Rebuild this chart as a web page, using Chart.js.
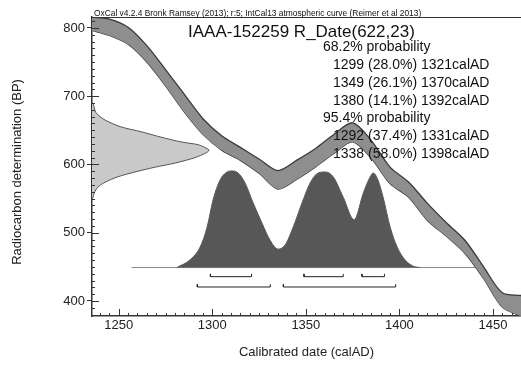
<!DOCTYPE html>
<html>
<head>
<meta charset="utf-8">
<script src="https://cdn.jsdelivr.net/npm/chart.js@4/dist/chart.umd.min.js"></script>
<style>
  html, body { margin: 0; padding: 0; background: #fff; }
  canvas { display: block; }
</style>
</head>
<body>
<canvas id="chart" width="521" height="365"></canvas>
<script>
// calibration curve (IntCal13), upper and lower 1-sigma edges
const curveYears = [1236, 1245, 1255, 1265, 1275, 1285, 1295, 1305, 1315, 1325, 1335, 1345, 1355, 1365, 1375, 1385, 1395, 1405, 1415, 1425, 1435, 1445, 1455, 1465];
const curveUpper = [816, 813, 801, 774, 739, 703, 667, 642, 625, 608, 591, 606, 623, 644, 661, 635, 596, 574, 543, 515, 489, 450, 412, 408];
const curveLower = [796, 789, 776, 750, 715, 677, 644, 621, 606, 587, 564, 578, 596, 616, 633, 609, 572, 552, 518, 495, 470, 433, 391, 378];

// radiocarbon measurement 622 +/- 23 BP, drawn against the y axis (extent in years)
const rDateBP = [691, 690, 676, 665, 655, 648, 640, 633, 629, 624, 621, 617, 610, 602, 596, 589, 582, 574, 567, 558, 551, 549];
const rDateExtent = [1235.7, 1236.2, 1237.8, 1242.7, 1251.2, 1261.9, 1272.6, 1283.3, 1292.4, 1296.7, 1298.3, 1296.7, 1290.8, 1280.1, 1269.4, 1258.7, 1249.6, 1242.7, 1238.9, 1236.8, 1236.2, 1235.7];

// calibrated probability distribution (height shown in BP units above its baseline)
const distYears = [1281, 1288, 1293.5, 1297.2, 1300.4, 1304.1, 1307.9, 1310.6, 1313.8, 1317.5, 1321.8, 1326.6, 1330.9, 1335.2, 1338.9, 1343.2, 1348, 1352.3, 1356.6, 1360.3, 1364.6, 1370, 1375.8, 1380.7, 1384.4, 1386, 1388.6, 1391.3, 1395.1, 1398.8, 1403.1, 1407.4, 1411.1];
const distBP = [449, 460, 479, 508, 548, 577, 589, 590.5, 587.5, 573, 544, 514, 489, 476, 482, 508, 544, 573, 587.5, 589, 582, 552, 519, 558, 582, 587.5, 577, 552, 508, 479, 460, 451, 449];
const distBase = 449;
const baseLine = [1256.8, 1440.5];

// probability ranges
const ranges68 = [[1299, 1321], [1349, 1370], [1380, 1392]];
const ranges95 = [[1292, 1331], [1338, 1398]];
const row68 = 435.6, row95 = 420.5, bracketTick = 4;

const xTicks = [1250, 1300, 1350, 1400, 1450];
const yTicks = [400, 500, 600, 700, 800];

const headerText = 'OxCal v4.2.4 Bronk Ramsey (2013); r:5; IntCal13 atmospheric curve (Reimer et al 2013)';
const sampleTitle = 'IAAA-152259 R_Date(622,23)';
const rangeLines = [
  { text: '68.2% probability', indent: 0 },
  { text: '1299 (28.0%) 1321calAD', indent: 1 },
  { text: '1349 (26.1%) 1370calAD', indent: 1 },
  { text: '1380 (14.1%) 1392calAD', indent: 1 },
  { text: '95.4% probability', indent: 0 },
  { text: '1292 (37.4%) 1331calAD', indent: 1 },
  { text: '1338 (58.0%) 1398calAD', indent: 1 }
];

const FONT = "'Liberation Sans', Arial, sans-serif";

function bracketPoints(ranges, row) {
  const pts = [];
  ranges.forEach(([a, b]) => {
    pts.push({ x: a, y: row + bracketTick }, { x: a, y: row }, { x: b, y: row }, { x: b, y: row + bracketTick }, { x: b, y: null });
  });
  return pts;
}

const decor = {
  id: 'decor',
  afterDatasetsDraw(chart) {
    const { ctx, chartArea: a, scales: { x, y } } = chart;
    ctx.save();
    ctx.strokeStyle = '#333';
    ctx.lineWidth = 1;

    // top border
    ctx.beginPath();
    ctx.moveTo(a.left, a.top + 0.5);
    ctx.lineTo(a.right, a.top + 0.5);
    ctx.stroke();

    // inside ticks on y axis
    ctx.beginPath();
    for (let v = 380; v <= 810; v += 10) {
      const py = Math.round(y.getPixelForValue(v)) + 0.5;
      const len = v % 100 === 0 ? 7 : 3;
      ctx.moveTo(a.left, py);
      ctx.lineTo(a.left + len, py);
    }
    // inside ticks on x axis
    for (let v = 1240; v <= 1465; v += 5) {
      const px = Math.round(x.getPixelForValue(v)) + 0.5;
      const len = v % 50 === 0 ? 7 : 3;
      ctx.moveTo(px, a.bottom);
      ctx.lineTo(px, a.bottom - len);
    }
    ctx.stroke();

    // texts
    ctx.fillStyle = '#111';
    ctx.textBaseline = 'alphabetic';
    ctx.font = '8.4px ' + FONT;
    ctx.fillText(headerText, a.left + 2, a.top - 1);

    ctx.textBaseline = 'middle';
    ctx.font = '17px ' + FONT;
    ctx.fillText(sampleTitle, 188, 32);

    ctx.font = '14px ' + FONT;
    rangeLines.forEach((ln, i) => {
      ctx.fillText(ln.text, ln.indent ? 333 : 323, 47 + i * 17.9);
    });
    ctx.restore();
  }
};

new Chart(document.getElementById('chart'), {
  type: 'line',
  data: {
    datasets: [
      {
        label: 'curve upper',
        data: curveYears.map((yr, i) => ({ x: yr, y: curveUpper[i] })),
        borderColor: '#3a3a3a',
        borderWidth: 1.3,
        backgroundColor: '#8e8e8e',
        fill: '+1',
        tension: 0.3,
        pointRadius: 0,
        order: 1
      },
      {
        label: 'curve lower',
        data: curveYears.map((yr, i) => ({ x: yr, y: curveLower[i] })),
        borderColor: '#3a3a3a',
        borderWidth: 1.3,
        fill: false,
        tension: 0.3,
        pointRadius: 0,
        order: 1
      },
      {
        label: 'calibrated',
        data: distYears.map((yr, i) => ({ x: yr, y: distBP[i] })),
        borderColor: '#5a5a5a',
        borderWidth: 1,
        backgroundColor: '#575757',
        fill: { value: distBase },
        cubicInterpolationMode: 'monotone',
        pointRadius: 0,
        order: 2
      },
      {
        label: 'baseline',
        data: baseLine.map(yr => ({ x: yr, y: distBase })),
        borderColor: '#8a8a8a',
        borderWidth: 1,
        fill: false,
        pointRadius: 0,
        order: 3
      },
      {
        label: 'R_Date',
        data: rDateBP.map((bp, i) => ({ x: rDateExtent[i], y: bp })),
        borderColor: '#555',
        borderWidth: 1,
        backgroundColor: '#c9c9c9',
        fill: 'shape',
        tension: 0.25,
        pointRadius: 0,
        order: 4
      },
      {
        label: '68.2%',
        data: bracketPoints(ranges68, row68),
        borderColor: '#222',
        borderWidth: 1,
        fill: false,
        spanGaps: false,
        pointRadius: 0,
        order: 0
      },
      {
        label: '95.4%',
        data: bracketPoints(ranges95, row95),
        borderColor: '#222',
        borderWidth: 1,
        fill: false,
        spanGaps: false,
        pointRadius: 0,
        order: 0
      }
    ]
  },
  options: {
    responsive: false,
    animation: false,
    layout: { padding: { top: 17, right: 0, bottom: 0, left: 0 } },
    plugins: { legend: { display: false }, tooltip: { enabled: false } },
    scales: {
      x: {
        type: 'linear',
        min: 1235.7,
        max: 1465,
        afterFit: s => { s.height = 49; },
        afterBuildTicks: s => { s.ticks = xTicks.map(v => ({ value: v })); },
        grid: { display: true, drawOnChartArea: false, drawTicks: false },
        border: { display: true, color: '#333', width: 1.5 },
        ticks: { padding: 2, color: '#222', font: { family: FONT, size: 13 }, maxRotation: 0, callback: v => String(v) },
        title: { display: true, text: 'Calibrated date (calAD)', color: '#222', font: { family: FONT, size: 13 }, padding: { bottom: 5 } }
      },
      y: {
        type: 'linear',
        min: 378,
        max: 816,
        afterFit: s => { s.width = 92; },
        afterBuildTicks: s => { s.ticks = yTicks.map(v => ({ value: v })); },
        grid: { display: true, drawOnChartArea: false, drawTicks: true, tickLength: 5, color: '#333' },
        border: { display: true, color: '#333', width: 1.5 },
        ticks: { padding: 2, color: '#222', font: { family: FONT, size: 13 }, callback: v => String(v) },
        title: { display: true, text: 'Radiocarbon determination (BP)   ', color: '#222', font: { family: FONT, size: 13 }, padding: { top: 10 } }
      }
    }
  },
  plugins: [decor]
});
</script>
</body>
</html>
